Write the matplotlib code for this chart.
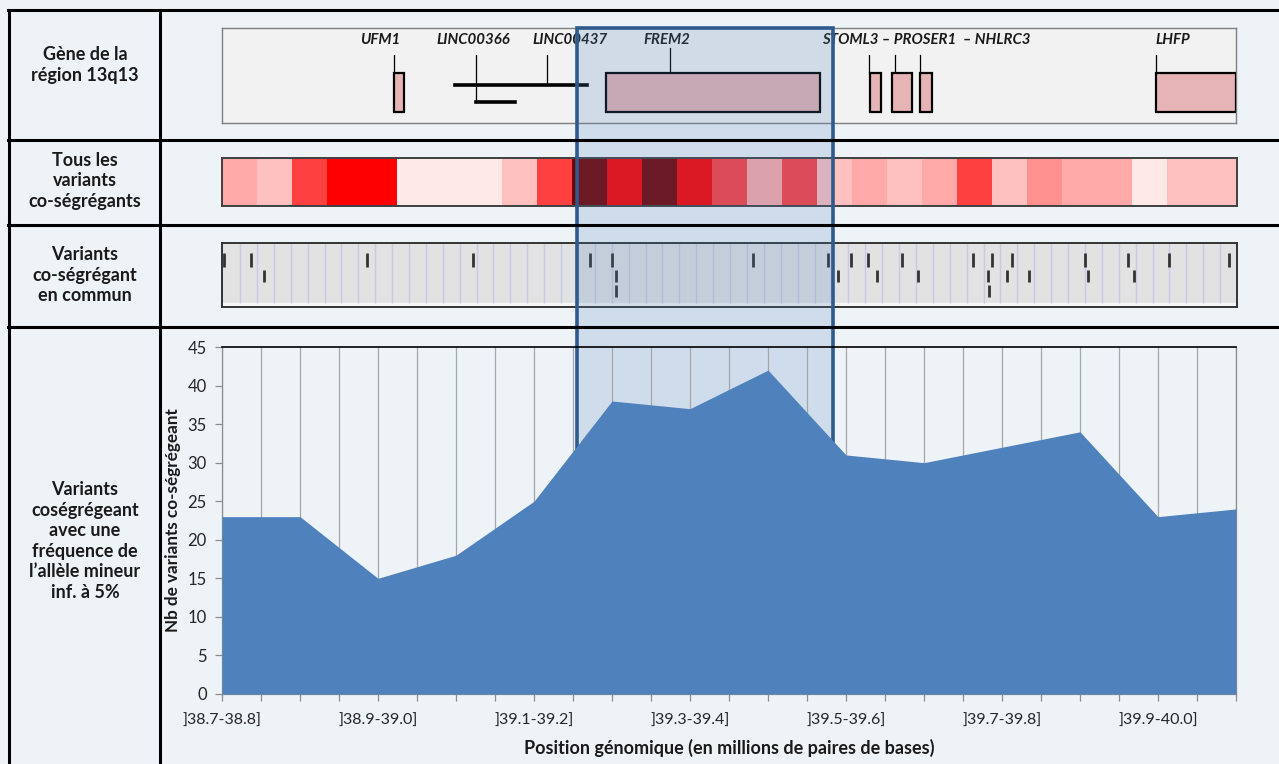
import numpy as np
import matplotlib
matplotlib.use("Agg")
import matplotlib.pyplot as plt
from matplotlib.colors import ListedColormap
from matplotlib.patches import Rectangle
from matplotlib.lines import Line2D
import matplotlib.transforms as mtransforms

plt.rcParams['font.family'] = ['Lato', 'DejaVu Sans']

# ---------------- data ----------------
categories = [']38.7-38.8]', ']38.8-38.9]', ']38.9-39.0]', ']39.0-39.1]', ']39.1-39.2]',
              ']39.2-39.3]', ']39.3-39.4]', ']39.4-39.5]', ']39.5-39.6]', ']39.6-39.7]',
              ']39.7-39.8]', ']39.8-39.9]', ']39.9-40.0]', ']40.0-40.1]']
cat_start = 38.7          # Mb, lower bound of first category
cat_width = 0.1           # Mb
counts = [23, 23, 15, 18, 25, 38, 37, 42, 31, 30, 32, 34, 23, 24]

# heat-map of all co-segregating variants (29 bins across the region)
heat_levels = [2, 1, 4, 5, 5, 0, 0, 0, 1, 4, 6, 5, 6, 5, 4, 2, 4, 1, 2, 1, 2, 4, 1, 3, 2, 2, 0, 1, 1]
heat_colors = ['#FFE8E8', '#FFC0C0', '#FFA9A9', '#FF9090', '#FF4040', '#FF0000', '#720000']

# genes (Mb positions, schematic)
gene_boxes = {
    'UFM1':    (38.971, 38.983),
    'FREM2':   (39.242, 39.517),
    'STOML3':  (39.581, 39.595),
    'PROSER1': (39.609, 39.635),
    'NHLRC3':  (39.645, 39.660),
    'LHFP':    (39.947, 40.050),
}
gene_leaders = [38.971, 39.076, 39.167, 39.324, 39.579, 39.613, 39.645, 39.947]
linc_main = (39.049, 39.218)
linc_lower = (39.076, 39.126)
gene_labels = [('UFM1', 38.953, 'center'), ('LINC00366', 39.072, 'center'),
               ('LINC00437', 39.196, 'center'), ('FREM2', 39.320, 'center'),
               ('STOML3 \u2013 PROSER1  \u2013 NHLRC3', 39.519, 'left'), ('LHFP', 39.947, 'left')]

# common co-segregating variants (Mb), three stacking rows
variants_row1 = [38.753, 38.787, 38.936, 39.072, 39.221, 39.250, 39.430, 39.526, 39.555,
                 39.578, 39.621, 39.712, 39.736, 39.762, 39.855, 39.910, 39.963, 40.040]
variants_row2 = [38.804, 39.254, 39.539, 39.589, 39.642, 39.731, 39.756, 39.783, 39.859, 39.918]
variants_row3 = [39.255, 39.733]

highlight = (39.205, 39.533)   # FREM2 region highlighted

row_labels = ['Gène de la\nrégion 13q13', 'Tous les\nvariants\nco-ségrégants',
              'Variants\nco-ségrégant\nen commun',
              'Variants\ncoségrégeant\navec une\nfréquence de\nl\u2019allèle mineur\ninf. à 5%']

# ---------------- layout helpers ----------------
W, H = 1279, 764
fig = plt.figure(figsize=(W / 100, H / 100), dpi=100)
BG = '#EEF3F8'
fig.patch.set_facecolor(BG)

def rect(x0, y0, x1, y1):
    return [x0 / W, 1 - y1 / H, (x1 - x0) / W, (y1 - y0) / H]

xmin = cat_start + cat_width / 2
xmax = cat_start + cat_width * (len(categories) - 0.5)

# table lines
for y in [10, 140, 225, 327]:
    fig.add_artist(Line2D([8 / W, 1], [1 - y / H] * 2, color='black', lw=2.2, zorder=3))
for x in [9, 160]:
    fig.add_artist(Line2D([x / W] * 2, [0, 1 - 10 / H], color='black', lw=2.2, zorder=3))

# row labels
for lab, yc in zip(row_labels, [65, 181, 275, 541]):
    fig.text(85 / W, 1 - yc / H, lab, ha='center', va='center', fontsize=13,
             fontweight='bold', color='#1a1a1a', linespacing=1.25)

# ---------------- gene panel ----------------
axg = fig.add_axes(rect(222, 28, 1236, 123), zorder=0)
axg.set_facecolor('#F2F2F2')
axg.set_xlim(xmin, xmax)
axg.set_ylim(0, 1)
axg.set_xticks([]); axg.set_yticks([])
for s in axg.spines.values():
    s.set_color('#7F7F7F'); s.set_linewidth(1)
for name, (s0, s1) in gene_boxes.items():
    axg.add_patch(Rectangle((s0, 0.116), s1 - s0, 0.41, facecolor='#E6B4B4',
                            edgecolor='black', lw=1.6, zorder=3))
for gx in gene_leaders:
    top = 0.79 if abs(gx - 39.324) < 1e-6 else 0.716
    bot = 0.4 if abs(gx - 39.167) < 1e-6 else (0.221 if abs(gx - 39.076) < 1e-6 else 0.526)
    axg.plot([gx, gx], [bot, top], color='black', lw=0.9, zorder=2)
axg.plot(linc_main, [0.4, 0.4], color='black', lw=2.6, zorder=2)
axg.plot(linc_lower, [0.221, 0.221], color='black', lw=2.6, zorder=2)
for txt, gx, ha in gene_labels:
    axg.text(gx, 0.875, txt, ha=ha, va='center', fontsize=10.8, fontweight='bold',
             fontstyle='italic', color='#1a1a1a')

# ---------------- heat panel ----------------
axh = fig.add_axes(rect(222, 158, 1237, 206), zorder=0)
axh.imshow(np.array([heat_levels]), cmap=ListedColormap(heat_colors), vmin=-0.5,
           vmax=len(heat_colors) - 0.5, aspect='auto', extent=[xmin, xmax, 0, 1],
           interpolation='nearest')
axh.set_xlim(xmin, xmax)
axh.set_xticks([]); axh.set_yticks([])
for s in axh.spines.values():
    s.set_color('#404040'); s.set_linewidth(1.4)

# ---------------- common variants panel ----------------
axv = fig.add_axes(rect(222, 243, 1237, 307), zorder=0)
axv.set_facecolor('#E2E2E2')
axv.set_xlim(xmin, xmax)
axv.set_ylim(0, 1)
axv.set_xticks([]); axv.set_yticks([])
axv.axhspan(0, 0.07, color='#F6F6F6', zorder=1)
grid_x = np.linspace(xmin + (xmax - xmin) * 18 / 1014, xmax, 60)
axv.vlines(grid_x, 0.07, 1, color='#C8C9E6', lw=1, zorder=1)
axv.vlines(variants_row1, 0.63, 0.84, color='#333333', lw=2, zorder=3)
axv.vlines(variants_row2, 0.39, 0.58, color='#333333', lw=2, zorder=3)
axv.vlines(variants_row3, 0.16, 0.35, color='#333333', lw=2, zorder=3)
for s in axv.spines.values():
    s.set_color('#333333'); s.set_linewidth(1.4)

# ---------------- area chart ----------------
axa = fig.add_axes(rect(222, 347, 1236, 694), zorder=2)
axa.set_facecolor('none')
xc = [cat_start + cat_width * (i + 0.5) for i in range(len(categories))]
axa.fill_between(xc, counts, 0, color='#4F81BD', lw=0, zorder=3)
axa.set_xlim(xmin, xmax)
axa.set_ylim(0, 45)
axa.set_yticks(range(0, 46, 5))
tick_pos = np.linspace(xmin, xmax, 2 * len(categories) - 1)
axa.set_xticks(tick_pos)
labs = []
for k in range(len(tick_pos)):
    if k % 4 == 0 and k // 2 < len(categories) - 1:
        labs.append(categories[k // 2])
    else:
        labs.append('')
axa.set_xticklabels(labs)
axa.tick_params(axis='x', length=5, width=0.9, color='#8C8C8C', labelsize=11.5,
                labelcolor='#262626', pad=9)
axa.tick_params(axis='y', length=5, width=0.9, color='#8C8C8C', labelsize=12,
                labelcolor='#262626', pad=6)
for xg in tick_pos:
    axa.axvline(xg, color='#A6A6A6', lw=0.9, zorder=1)
axa.spines['top'].set_color('black'); axa.spines['top'].set_linewidth(1.2)
for sp in ['left', 'bottom', 'right']:
    axa.spines[sp].set_color('#8C8C8C'); axa.spines[sp].set_linewidth(0.9)
axa.set_ylabel('Nb de variants co-ségrégeant', fontsize=12.3, fontweight='bold',
               color='#1a1a1a')
axa.yaxis.set_label_coords(-0.04, 0.5)
axa.set_xlabel('Position génomique (en millions de paires de bases)', fontsize=13,
               fontweight='bold', color='#1a1a1a', labelpad=8)

# ---------------- highlight rectangle ----------------
trans = mtransforms.blended_transform_factory(axa.transData, fig.transFigure)
y_bot = 1 - 680 / H
y_top = 1 - 28 / H
fig.add_artist(Rectangle((highlight[0], y_bot), highlight[1] - highlight[0], y_top - y_bot,
                         transform=trans, facecolor='#4F81BD', alpha=0.2,
                         edgecolor='none', zorder=1))
fig.add_artist(Rectangle((highlight[0], y_bot), highlight[1] - highlight[0], y_top - y_bot,
                         transform=trans, facecolor='none',
                         edgecolor='#2E5A8E', lw=2.6, zorder=1))

fig.savefig('out.png', dpi=100, facecolor=BG)
